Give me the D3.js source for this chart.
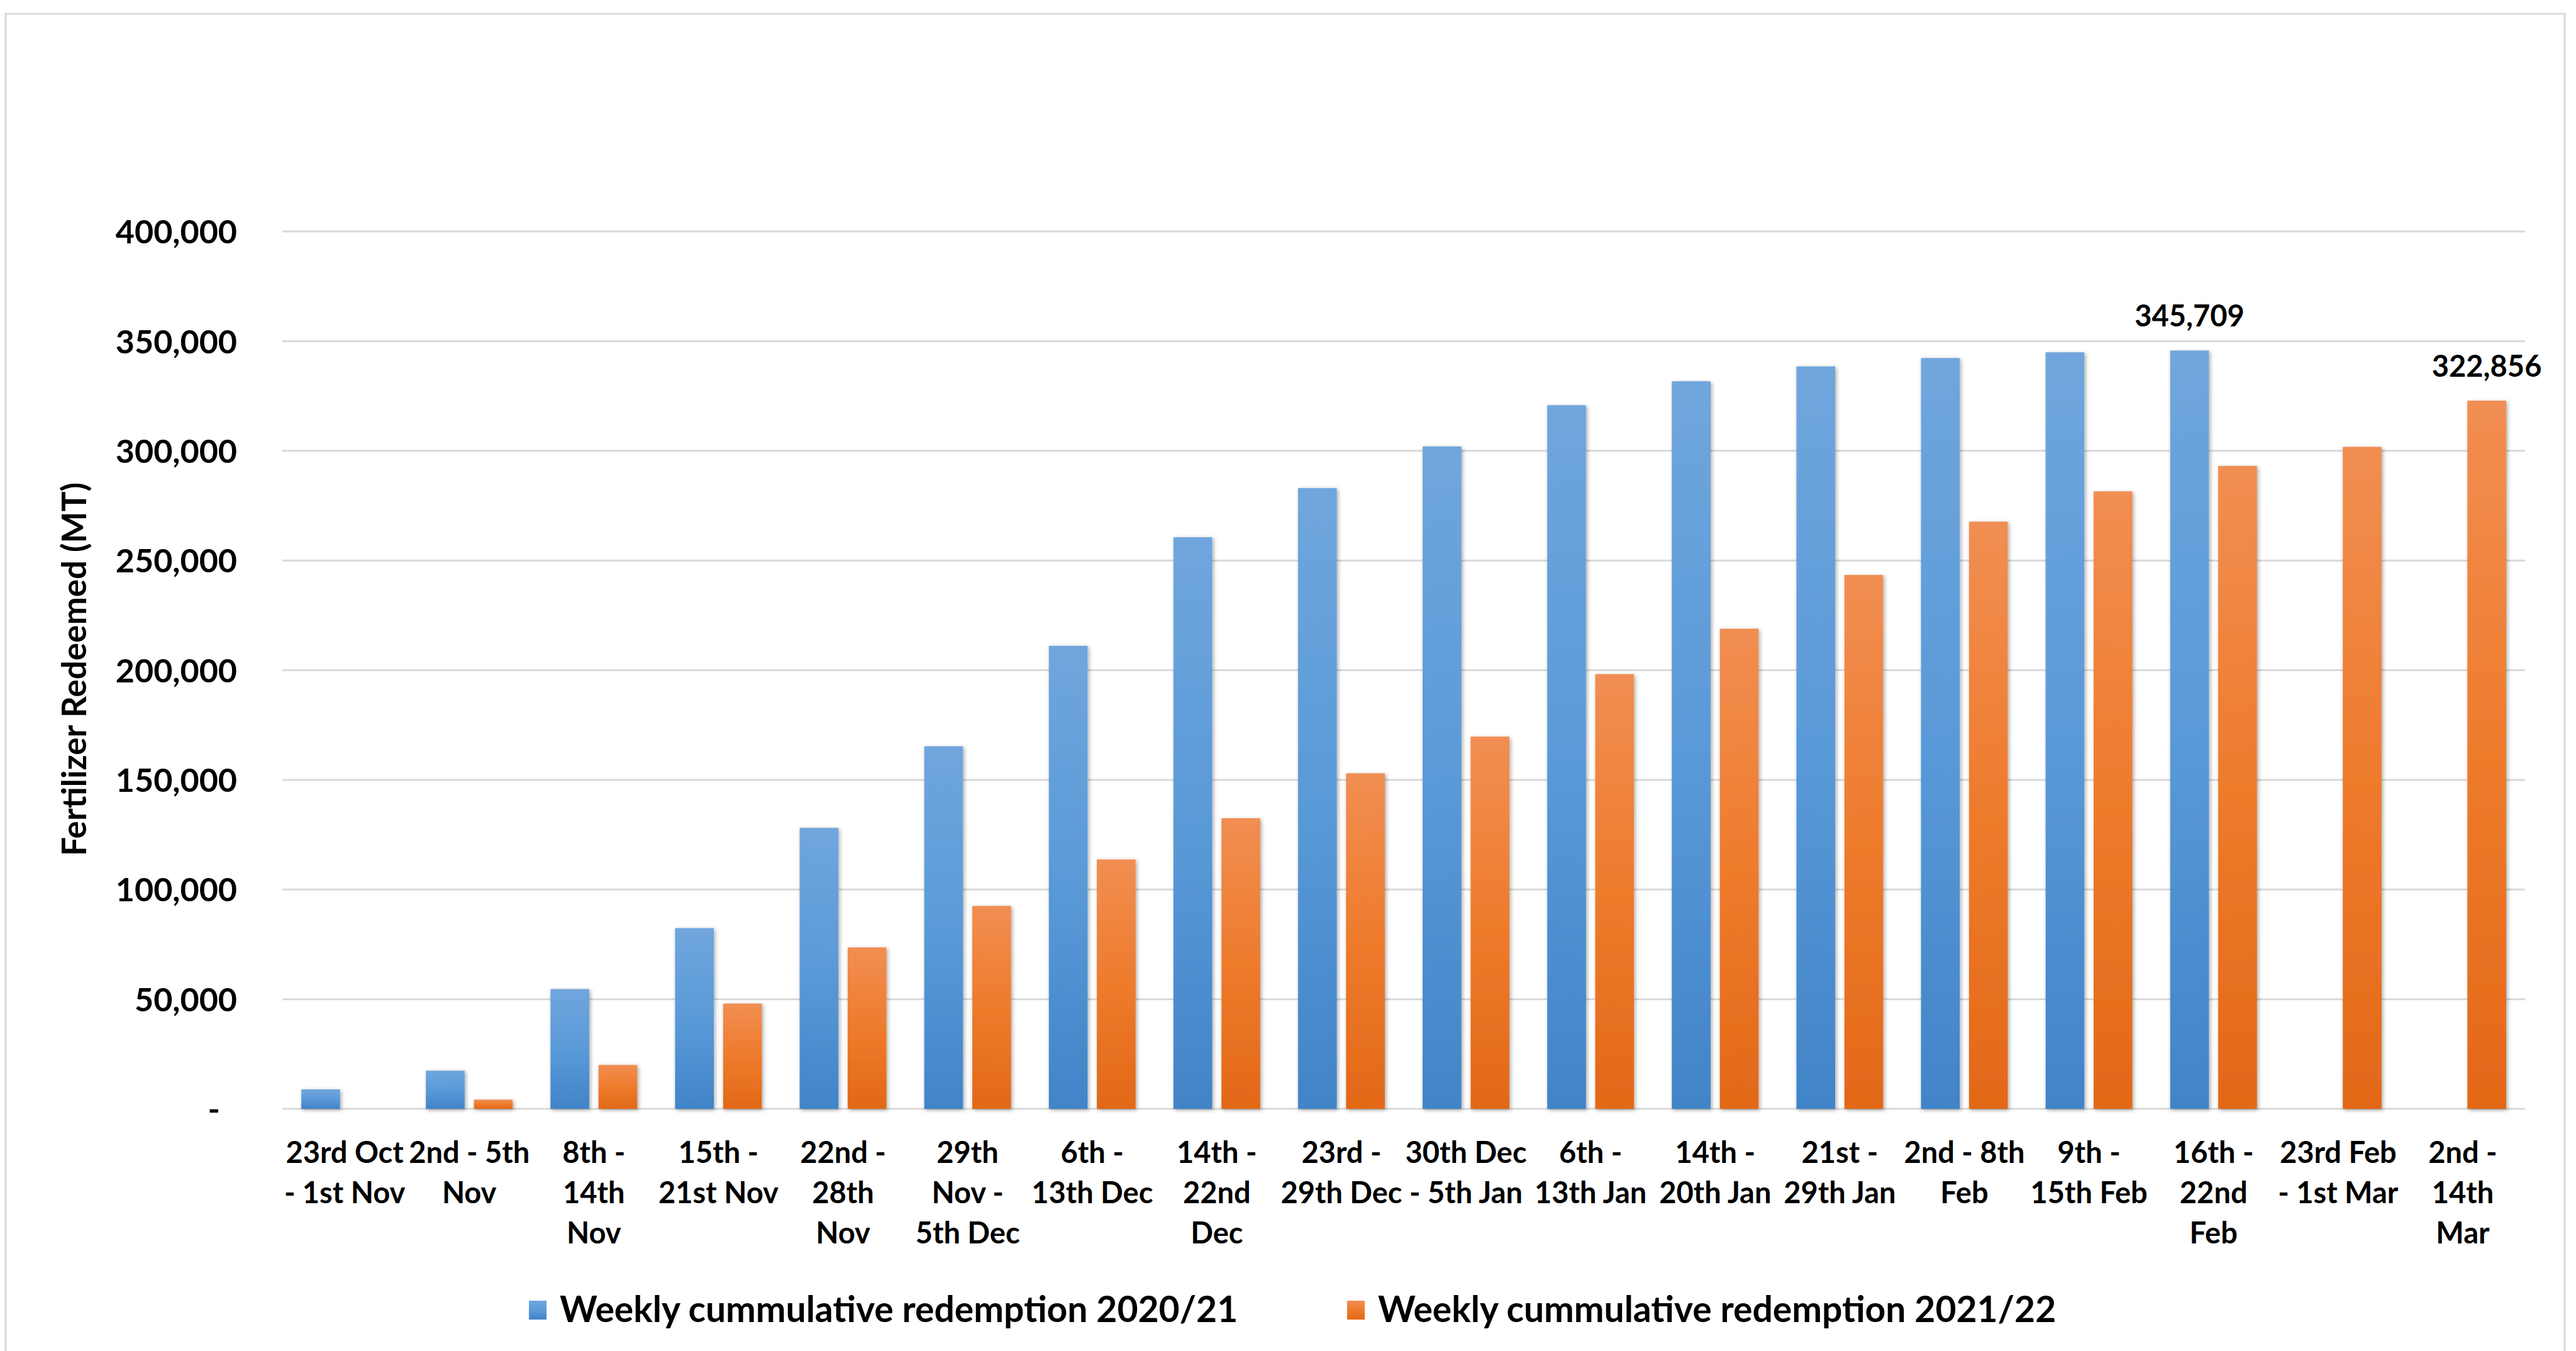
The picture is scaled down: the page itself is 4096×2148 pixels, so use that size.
<!DOCTYPE html>
<html>
<head>
<meta charset="utf-8">
<script src="https://cdn.jsdelivr.net/npm/d3@7"></script>
<style>
  html, body { margin: 0; padding: 0; background: #ffffff; }
  svg { display: block; }
  text { font-family: Lato, "Liberation Sans", Arial, sans-serif; font-weight: 700; fill: #000; }
</style>
</head>
<body>
<script>
// ---------------- DATA ----------------
const categories = [
  "23rd Oct - 1st Nov", "2nd - 5th Nov", "8th - 14th Nov", "15th - 21st Nov",
  "22nd - 28th Nov", "29th Nov - 5th Dec", "6th - 13th Dec", "14th - 22nd Dec",
  "23rd - 29th Dec", "30th Dec - 5th Jan", "6th - 13th Jan", "14th - 20th Jan",
  "21st - 29th Jan", "2nd - 8th Feb", "9th - 15th Feb", "16th - 22nd Feb",
  "23rd Feb - 1st Mar", "2nd - 14th Mar"
];
const categoryLines = [
  ["23rd Oct", "- 1st Nov"], ["2nd - 5th", "Nov"], ["8th -", "14th", "Nov"], ["15th -", "21st Nov"],
  ["22nd -", "28th", "Nov"], ["29th", "Nov -", "5th Dec"], ["6th -", "13th Dec"], ["14th -", "22nd", "Dec"],
  ["23rd -", "29th Dec"], ["30th Dec", "- 5th Jan"], ["6th -", "13th Jan"], ["14th -", "20th Jan"],
  ["21st -", "29th Jan"], ["2nd - 8th", "Feb"], ["9th -", "15th Feb"], ["16th -", "22nd", "Feb"],
  ["23rd Feb", "- 1st Mar"], ["2nd -", "14th", "Mar"]
];
const seriesNames = ["Weekly cummulative redemption 2020/21", "Weekly cummulative redemption 2021/22"];
const values2020 = [8900, 17400, 54600, 82400, 128100, 165300, 211100, 260600, 283000, 302000,
                    320800, 331700, 338500, 342300, 344900, 345709, null, null];
const values2021 = [null, 4200, 20000, 48000, 73600, 92500, 113700, 132500, 153000, 169700,
                    198200, 218900, 243400, 267700, 281500, 293100, 301800, 322856];
const yTicks = [0, 50000, 100000, 150000, 200000, 250000, 300000, 350000, 400000];
const labelledPoints = [ {series: 0, index: 15}, {series: 1, index: 17} ];
const yTitle = "Fertilizer Redeemed (MT)";

// ---------------- LAYOUT ----------------
const W = 4096, H = 2148;
const plot = { left: 449, right: 4015, top: 368, bottom: 1763 };

const svg = d3.select("body").append("svg").attr("width", W).attr("height", H);

const defs = svg.append("defs");
const grads = [
  { id: "gBlue", stops: ["#70a6dd", "#5a9ad8", "#4184c8"] },
  { id: "gOrange", stops: ["#f18e52", "#ee7b2c", "#e26818"] }
];
grads.forEach(g => {
  const lg = defs.append("linearGradient").attr("id", g.id).attr("x1", 0).attr("y1", 0).attr("x2", 0).attr("y2", 1);
  lg.append("stop").attr("offset", "0%").attr("stop-color", g.stops[0]);
  lg.append("stop").attr("offset", "50%").attr("stop-color", g.stops[1]);
  lg.append("stop").attr("offset", "100%").attr("stop-color", g.stops[2]);
});
const flt = defs.append("filter").attr("id", "shadow").attr("x", "-30%").attr("y", "-10%").attr("width", "160%").attr("height", "120%");
flt.append("feDropShadow").attr("dx", 2).attr("dy", 2).attr("stdDeviation", 3)
   .attr("flood-color", "#000").attr("flood-opacity", 0.35);

// chart border
svg.append("rect").attr("x", 9).attr("y", 22).attr("width", 4069).attr("height", 2200)
   .attr("fill", "none").attr("stroke", "#d9d9d9").attr("stroke-width", 3);

// scales
const x0 = d3.scaleBand().domain(categories).range([plot.left, plot.right]).padding(0);
const keys = ["a", "b"];
const x1 = d3.scaleBand().domain(keys).range([0, x0.bandwidth()]).paddingInner(0.193).paddingOuter(0.394);
const y = d3.scaleLinear().domain([0, 400000]).range([plot.bottom, plot.top]);

// gridlines
svg.append("g").selectAll("line").data(yTicks).join("line")
  .attr("x1", plot.left).attr("x2", plot.right)
  .attr("y1", d => y(d)).attr("y2", d => y(d))
  .attr("stroke", "#d9d9d9").attr("stroke-width", 3);

// y axis labels
const fmt = d3.format(",");
const yAxis = d3.axisLeft(y).tickValues(yTicks).tickSize(0).tickPadding(0)
  .tickFormat(d => d === 0 ? "-" : fmt(d));
const yg = svg.append("g").attr("transform", `translate(377,0)`).call(yAxis);
yg.select(".domain").remove();
yg.selectAll("text").attr("font-size", 52).attr("font-family", "Lato, sans-serif").attr("font-weight", 700)
  .attr("fill", "#000").attr("dy", "0.36em")
  .attr("dx", d => d === 0 ? -27 : 0);

// y title
svg.append("text").attr("transform", `translate(137,1064) rotate(-90)`)
  .attr("text-anchor", "middle").attr("font-size", 53).text(yTitle);

// bars
const series = [
  { key: "a", vals: values2020, fill: "url(#gBlue)" },
  { key: "b", vals: values2021, fill: "url(#gOrange)" }
];
const barsG = svg.append("g").attr("filter", "url(#shadow)");
series.forEach(s => {
  const data = categories.map((c, i) => ({ c, v: s.vals[i] })).filter(d => d.v != null);
  barsG.append("g").selectAll("rect").data(data).join("rect")
    .attr("x", d => x0(d.c) + x1(s.key))
    .attr("width", x1.bandwidth())
    .attr("y", d => y(d.v))
    .attr("height", d => y(0) - y(d.v))
    .attr("fill", s.fill);
});

// data labels
labelledPoints.forEach(p => {
  const s = series[p.series];
  const c = categories[p.index];
  const v = s.vals[p.index];
  svg.append("text")
    .attr("x", x0(c) + x1(s.key) + x1.bandwidth() / 2)
    .attr("y", y(v) - 38)
    .attr("text-anchor", "middle").attr("font-size", 47).text(fmt(v));
});

// x axis labels
const xg = svg.append("g");
categories.forEach((c, i) => {
  const t = xg.append("text").attr("text-anchor", "middle").attr("font-size", 47)
    .attr("x", x0(c) + x0.bandwidth() / 2).attr("y", 1849);
  categoryLines[i].forEach((ln, j) => {
    t.append("tspan").attr("x", x0(c) + x0.bandwidth() / 2).attr("y", 1849 + j * 64).text(ln);
  });
});

// legend
const legendItems = [
  { name: seriesNames[0], fill: "url(#gBlue)", x: 841 },
  { name: seriesNames[1], fill: "url(#gOrange)", x: 2142 }
];
const lg = svg.append("g");
legendItems.forEach(it => {
  lg.append("rect").attr("x", it.x).attr("y", 2068).attr("width", 28).attr("height", 30).attr("fill", it.fill);
  lg.append("text").attr("x", it.x + 49).attr("y", 2102).attr("font-size", 57).text(it.name);
});
</script>
</body>
</html>
